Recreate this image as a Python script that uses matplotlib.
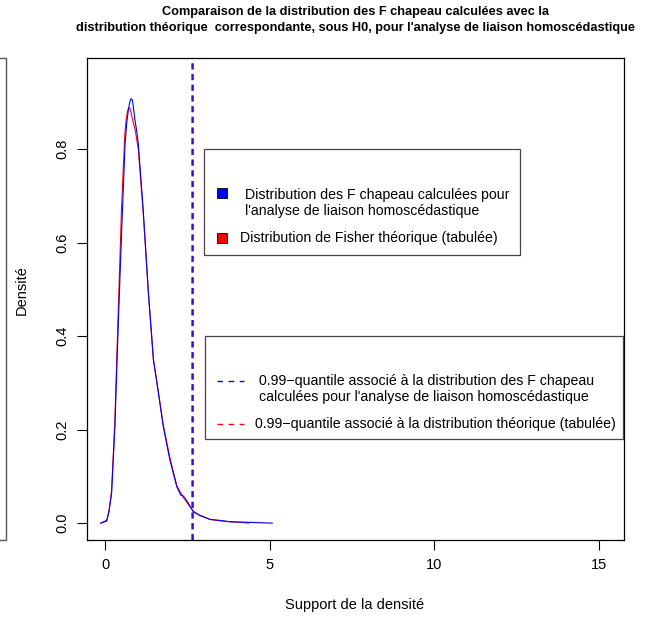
import matplotlib
matplotlib.use("Agg")
import matplotlib.pyplot as plt
from matplotlib.patches import Rectangle
from matplotlib.lines import Line2D

plt.rcParams['font.family'] = ['Liberation Sans', 'DejaVu Sans']

# densité estimée des F chapeau (support, densité)
f_hat_x = [-0.13, 0.05, 0.12, 0.2, 0.3, 0.4, 0.51, 0.61, 0.66, 0.71, 0.75, 0.79, 0.83, 0.87, 0.91,
           0.96, 1.01, 1.16, 1.32, 1.47, 1.62, 1.77, 1.97, 2.18, 2.3, 2.38, 2.53, 2.68,
           2.88, 3.19, 3.49, 3.8, 4.3, 5.08]
f_hat_y = [0.0, 0.006, 0.025, 0.064, 0.206, 0.42, 0.634, 0.812, 0.856, 0.884, 0.9, 0.908, 0.905, 0.885, 0.862,
           0.84, 0.812, 0.67, 0.49, 0.35, 0.28, 0.206, 0.135, 0.078, 0.06, 0.058, 0.043, 0.024,
           0.017, 0.008, 0.006, 0.003, 0.002, 0.0]

# densité de Fisher théorique (tabulée)
fisher_x = [-0.13, 0.05, 0.12, 0.2, 0.3, 0.4, 0.5, 0.6, 0.64, 0.68, 0.72, 0.76, 0.8, 0.85, 0.92,
            1.01, 1.16, 1.32, 1.47, 1.62, 1.77, 1.97, 2.18, 2.38, 2.53, 2.68,
            2.88, 3.19, 3.49, 3.8, 4.1, 4.36]
fisher_y = [0.0, 0.004, 0.025, 0.07, 0.22, 0.45, 0.67, 0.83, 0.862, 0.88, 0.889, 0.887, 0.875, 0.86, 0.84,
            0.80, 0.665, 0.49, 0.35, 0.28, 0.21, 0.14, 0.08, 0.055, 0.04, 0.026,
            0.016, 0.008, 0.005, 0.003, 0.002, 0.0]

# quantiles à 0.99
q_f_hat = 2.66
q_fisher = 2.65

x_ticks = [0, 5, 10, 15]
y_ticks = [0.0, 0.2, 0.4, 0.6, 0.8]

W, H = 655, 619
LEG_FS = 10.2


def px(x, y):
    return (x / W, 1 - y / H)


fig = plt.figure(figsize=(W / 100, H / 100), dpi=100)
ax = fig.add_axes([87 / W, (H - 540) / H, (624 - 87) / W, (540 - 58) / H])

ax.plot(fisher_x, fisher_y, color='red', lw=0.8)
ax.plot(f_hat_x, f_hat_y, color='blue', lw=0.8)
ax.axvline(q_fisher, color='red', lw=1.1, ls=(0, (4, 3)))
ax.axvline(q_f_hat, color='blue', lw=1.1, ls=(0, (4, 3)))

ax.set_xlim(-0.547, 15.76)
ax.set_ylim(-0.036, 0.995)
ax.set_xticks(x_ticks)
ax.set_xticklabels([str(t) for t in x_ticks])
ax.set_yticks(y_ticks)
ax.set_yticklabels(['%.1f' % t for t in y_ticks], rotation=90, va='center')
ax.tick_params(direction='out', length=7, width=0.8, labelsize=10.5, pad=6)
for s in ax.spines.values():
    s.set_linewidth(0.9)

fig.text(*px(355, 605), 'Support de la densité', ha='center', va='center', fontsize=10.5)
fig.text(*px(22, 290), 'Densité', ha='center', va='center', rotation=90, fontsize=10.5)
fig.text(*px(356, 12), "Comparaison de la distribution des F chapeau calculées avec la",
         ha='center', va='center', fontsize=9.2, fontweight='bold')
fig.text(*px(356, 28), "distribution théorique  correspondante, sous H0, pour l'analyse de liaison homoscédastique",
         ha='center', va='center', fontsize=9.2, fontweight='bold')

# cadre d'une légende précédente, en bord gauche
x0, y0 = px(-20, 540)
fig.add_artist(Rectangle((x0, y0), 26 / W, (540 - 58) / H, transform=fig.transFigure,
                         fill=False, ec='#555555', lw=1.0))

# légende des densités
x0, y0 = px(204, 255)
fig.add_artist(Rectangle((x0, y0), (520 - 204) / W, (255 - 149) / H, transform=fig.transFigure,
                         fill=False, ec='#444444', lw=0.9))
for yy, col in [(193, 'blue'), (238, 'red')]:
    sx, sy = px(217, yy + 5)
    fig.add_artist(Rectangle((sx, sy), 10 / W, 10 / H, transform=fig.transFigure,
                             fc=col, ec='black', lw=0.6))
fig.text(*px(245, 203), "Distribution des F chapeau calculées pour\nl'analyse de liaison homoscédastique",
         ha='left', va='center', fontsize=LEG_FS, linespacing=1.12)
fig.text(*px(240, 238), "Distribution de Fisher théorique (tabulée)",
         ha='left', va='center', fontsize=LEG_FS)

# légende des quantiles
x0, y0 = px(205, 439)
fig.add_artist(Rectangle((x0, y0), (623 - 205) / W, (439 - 336) / H, transform=fig.transFigure,
                         fill=False, ec='#444444', lw=0.9))
for yy, col in [(381, 'blue'), (424, 'red')]:
    a, b = px(217, yy)
    c, _ = px(244, yy)
    fig.add_artist(Line2D([a, c], [b, b], transform=fig.transFigure, color=col,
                          lw=1.0, ls=(0, (4, 4))))
fig.text(*px(259, 389), "0.99\u2212quantile associé à la distribution des F chapeau\ncalculées pour l'analyse de liaison homoscédastique",
         ha='left', va='center', fontsize=LEG_FS, linespacing=1.12)
fig.text(*px(255, 424), "0.99\u2212quantile associé à la distribution théorique (tabulée)",
         ha='left', va='center', fontsize=LEG_FS)

fig.savefig('out.png', dpi=100)
